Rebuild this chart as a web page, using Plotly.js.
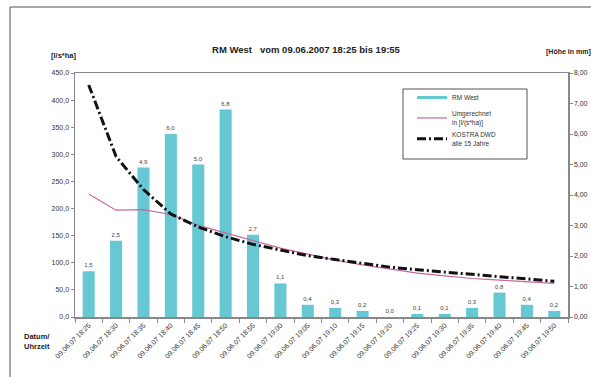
<!DOCTYPE html>
<html>
<head>
<meta charset="utf-8">
<script src="https://cdn.plot.ly/plotly-3.0.1.min.js"></script>
<style>html,body{margin:0;padding:0;background:#fff;}#chart{width:591px;height:377px;}</style>
</head>
<body>
<div id="chart"></div>
<script>
const categories = ['09.06.07 18:25','09.06.07 18:30','09.06.07 18:35','09.06.07 18:40','09.06.07 18:45','09.06.07 18:50','09.06.07 18:55','09.06.07 19:00','09.06.07 19:05','09.06.07 19:10','09.06.07 19:15','09.06.07 19:20','09.06.07 19:25','09.06.07 19:30','09.06.07 19:35','09.06.07 19:40','09.06.07 19:45','09.06.07 19:50'];
const rainMm = [1.5, 2.5, 4.9, 6.0, 5.0, 6.8, 2.7, 1.1, 0.4, 0.3, 0.2, 0.0, 0.1, 0.1, 0.3, 0.8, 0.4, 0.2];
const umgerechnet = [227, 197, 198, 189, 169, 155, 140, 127, 116, 105, 96, 88, 81, 76, 71, 68, 65, 62];
const kostra = [428, 296, 235, 190, 166, 148, 134, 123, 113, 106, 99, 92, 87, 83, 79, 74, 70, 66];
const leftTicks = [0, 50, 100, 150, 200, 250, 300, 350, 400, 450];
const rightTicks = [0, 1, 2, 3, 4, 5, 6, 7, 8];

const W = 591, H = 377, L = 75, R = 23, T = 73, B = 60;
const pw = W - L - R, ph = H - T - B;
const px = x => (x - L) / pw;
const py = y => (H - B - y) / ph;
const font = 'Liberation Sans, Arial, sans-serif';
const barColor = '#66c8d3';

const traces = [
  {
    type: 'bar', name: 'RM West', x: categories, y: rainMm, yaxis: 'y',
    marker: {color: barColor}, showlegend: false,
    text: rainMm.map(v => v.toFixed(1).replace('.', ',')),
    textposition: 'outside', cliponaxis: false,
    textfont: {size: 6, color: '#444', family: font}
  },
  {
    // legend entry only (Excel shows the bar series as a line symbol)
    type: 'scatter', mode: 'lines', name: 'RM West', legendgroup: 'a',
    x: [categories[0]], y: [null], yaxis: 'y',
    line: {color: barColor, width: 3}
  },
  {
    type: 'scatter', mode: 'lines', name: 'Umgerechnet<br>in [l/(s*ha)]', legendgroup: 'b',
    x: categories, y: umgerechnet, yaxis: 'y2',
    line: {color: '#c8679f', width: 1.2}
  },
  {
    type: 'scatter', mode: 'lines', name: 'KOSTRA DWD<br>alle 15 Jahre', legendgroup: 'c',
    x: categories, y: kostra, yaxis: 'y2',
    line: {color: '#111', width: 3, dash: '9px,3px,2px,3px'}
  }
];

const layout = {
  width: W, height: H,
  margin: {l: L, r: R, t: T, b: B},
  paper_bgcolor: '#fff', plot_bgcolor: '#fff',
  font: {family: font, size: 7, color: '#333'},
  showlegend: true,
  bargap: 0.56,
  title: {text: '<b>RM West   vom 09.06.2007 18:25 bis 19:55</b>', x: 306 / W, xanchor: 'center', y: 1 - 50 / H, yanchor: 'middle', font: {size: 9.5, color: '#222', family: font}},
  xaxis: {
    type: 'category', tickangle: -45, tickson: 'boundaries', ticks: 'outside', ticklen: 4,
    tickcolor: '#888', showline: true, linecolor: '#888', linewidth: 1.5, mirror: true,
    showgrid: false, tickfont: {size: 7, color: '#333'}
  },
  yaxis: {
    side: 'right', range: [0, 8], tickvals: rightTicks,
    ticktext: rightTicks.map(v => v.toFixed(2).replace('.', ',')),
    ticks: 'outside', ticklen: 3, tickcolor: '#888', showline: true, linecolor: '#888', linewidth: 1.5,
    showgrid: false, zeroline: false, tickfont: {size: 7, color: '#333'}
  },
  yaxis2: {
    overlaying: 'y', side: 'left', range: [0, 450], tickvals: leftTicks,
    ticktext: leftTicks.map(v => v.toFixed(1).replace('.', ',')),
    ticks: 'outside', ticklen: 3, tickcolor: '#888', showline: true, linecolor: '#888', linewidth: 1.5,
    showgrid: false, zeroline: false, tickfont: {size: 7, color: '#333'}
  },
  legend: {
    x: px(412), y: py(83), xanchor: 'left', yanchor: 'top',
    borderwidth: 0, bgcolor: 'rgba(0,0,0,0)',
    font: {size: 6.5, color: '#333'}, tracegroupgap: 1, itemwidth: 30
  },
  annotations: [
    {text: '<b>[l/s*ha]</b>', xref: 'paper', yref: 'paper', x: px(64), y: py(55), xanchor: 'center', yanchor: 'middle', showarrow: false, font: {size: 7.5, color: '#222'}},
    {text: '<b>[Höhe in mm]</b>', xref: 'paper', yref: 'paper', x: px(544), y: py(52), xanchor: 'left', yanchor: 'middle', showarrow: false, font: {size: 7, color: '#222'}},
    {text: '<b>Datum/<br>Uhrzeit</b>', xref: 'paper', yref: 'paper', x: px(22), y: py(341), xanchor: 'left', yanchor: 'middle', align: 'left', showarrow: false, font: {size: 7.5, color: '#222'}}
  ],
  shapes: [
    {type: 'rect', xref: 'paper', yref: 'paper', x0: px(403), x1: px(527), y0: py(159), y1: py(89), line: {color: '#555', width: 1}, fillcolor: '#fff', layer: 'below'},
    {type: 'line', xref: 'paper', yref: 'paper', x0: px(10), x1: px(600), y0: py(7), y1: py(7), line: {color: '#888', width: 1.5}},
    {type: 'line', xref: 'paper', yref: 'paper', x0: px(10), x1: px(10), y0: py(7), y1: py(380), line: {color: '#888', width: 1.5}}
  ]
};

Plotly.newPlot('chart', traces, layout, {displayModeBar: false, staticPlot: true});
</script>
</body>
</html>
